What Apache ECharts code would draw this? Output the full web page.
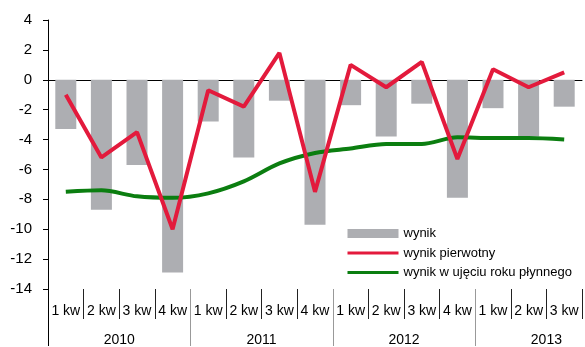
<!DOCTYPE html>
<html>
<head>
<meta charset="utf-8">
<script src="https://cdn.jsdelivr.net/npm/echarts@6/dist/echarts.min.js"></script>
<style>html,body{margin:0;padding:0;background:#fff}#c{width:585px;height:347px}</style>
</head>
<body>
<div id="c"></div>
<script>
var quarters = ['1 kw','2 kw','3 kw','4 kw','1 kw','2 kw','3 kw','4 kw','1 kw','2 kw','3 kw','4 kw','1 kw','2 kw','3 kw'];
var years = ['2010','2011','2012','2013'];
var wynik = [-3.3,-8.7,-5.7,-12.9,-2.8,-5.2,-1.4,-9.7,-1.7,-3.8,-1.6,-7.9,-1.9,-3.8,-1.8];
var wynikPierwotny = [-1.0,-5.2,-3.5,-10.0,-0.7,-1.8,1.8,-7.5,1.0,-0.5,1.2,-5.3,0.7,-0.5,0.5];
var wynikRoczny = [-7.5,-7.4,-7.8,-7.9,-7.6,-6.8,-5.6,-4.9,-4.6,-4.3,-4.3,-3.85,-3.9,-3.9,-4.0];
var yTicks = {min:-14, max:4, interval:2};
var yearBoundaries = [0,4,8,12];
var yearLabelPos = [2,6,10,14];

var FONT = "'Liberation Sans', Arial, sans-serif";
var chart = echarts.init(document.getElementById('c'));
chart.setOption({
  animation: false,
  backgroundColor: '#fff',
  grid: {left: 48, right: 3, top: 20, bottom: 57, containLabel: false},
  legend: {
    orient: 'vertical', left: 341, top: 222, itemWidth: 51, itemHeight: 9, itemGap: 6.5,
    textStyle: {fontFamily: FONT, fontSize: 13, color: '#000', lineHeight: 13},
    lineStyle: {width: 3},
    data: [
      {name: 'wynik', icon: 'rect'},
      {name: 'wynik pierwotny', itemStyle: {opacity: 0}},
      {name: 'wynik w ujęciu roku płynnego', itemStyle: {opacity: 0}}
    ]
  },
  xAxis: [
    {type: 'category', data: quarters, boundaryGap: true,
     axisLine: {onZero: true, lineStyle: {color: '#000', width: 1}},
     axisTick: {interval: 0, length: 5, lineStyle: {color: '#000'}},
     axisLabel: {show: false}, splitLine: {show: false}},
    {type: 'category', data: quarters, boundaryGap: true, position: 'bottom',
     axisLine: {show: false, onZero: false},
     axisTick: {show: true, interval: 0, length: 30, lineStyle: {color: '#222'}},
     axisLabel: {interval: 0, margin: 15, fontFamily: FONT, fontSize: 14, color: '#000'},
     splitLine: {show: false}},
    {type: 'value', min: 0, max: 15, position: 'bottom',
     axisLine: {show: false, onZero: false},
     axisTick: {show: true, customValues: yearBoundaries, length: 57, lineStyle: {color: '#999'}},
     axisLabel: {customValues: yearLabelPos, margin: 44, fontFamily: FONT, fontSize: 14, color: '#000',
       formatter: function(v){ var i = yearLabelPos.indexOf(v); return i >= 0 ? years[i] : ''; }},
     splitLine: {show: false}},
    {type: 'value', min: 0, max: 15, position: 'bottom',
     axisLine: {show: false, onZero: false},
     axisTick: {show: true, customValues: [0], length: 57, lineStyle: {color: '#000'}},
     axisLabel: {show: false}, splitLine: {show: false}}
  ],
  yAxis: {
    type: 'value', min: yTicks.min, max: yTicks.max, interval: yTicks.interval,
    axisLine: {show: true, onZero: false, lineStyle: {color: '#000', width: 1}},
    axisTick: {show: true, length: 5, lineStyle: {color: '#000'}},
    axisLabel: {margin: 16, fontFamily: FONT, fontSize: 15, color: '#000'},
    splitLine: {show: false}
  },
  series: [
    {name: 'wynik', type: 'bar', data: wynik, barWidth: 21, itemStyle: {color: '#adaeb2'}, z: 1},
    {name: 'wynik w ujęciu roku płynnego', type: 'line', data: wynikRoczny, smooth: 0.3,
     symbol: 'none', lineStyle: {color: '#0b7e10', width: 4}, itemStyle: {color: '#0b7e10'}, z: 3},
    {name: 'wynik pierwotny', type: 'line', data: wynikPierwotny, smooth: false,
     symbol: 'none', lineStyle: {color: '#e31a3c', width: 4}, itemStyle: {color: '#e31a3c'}, z: 4}
  ]
});
</script>
</body>
</html>
